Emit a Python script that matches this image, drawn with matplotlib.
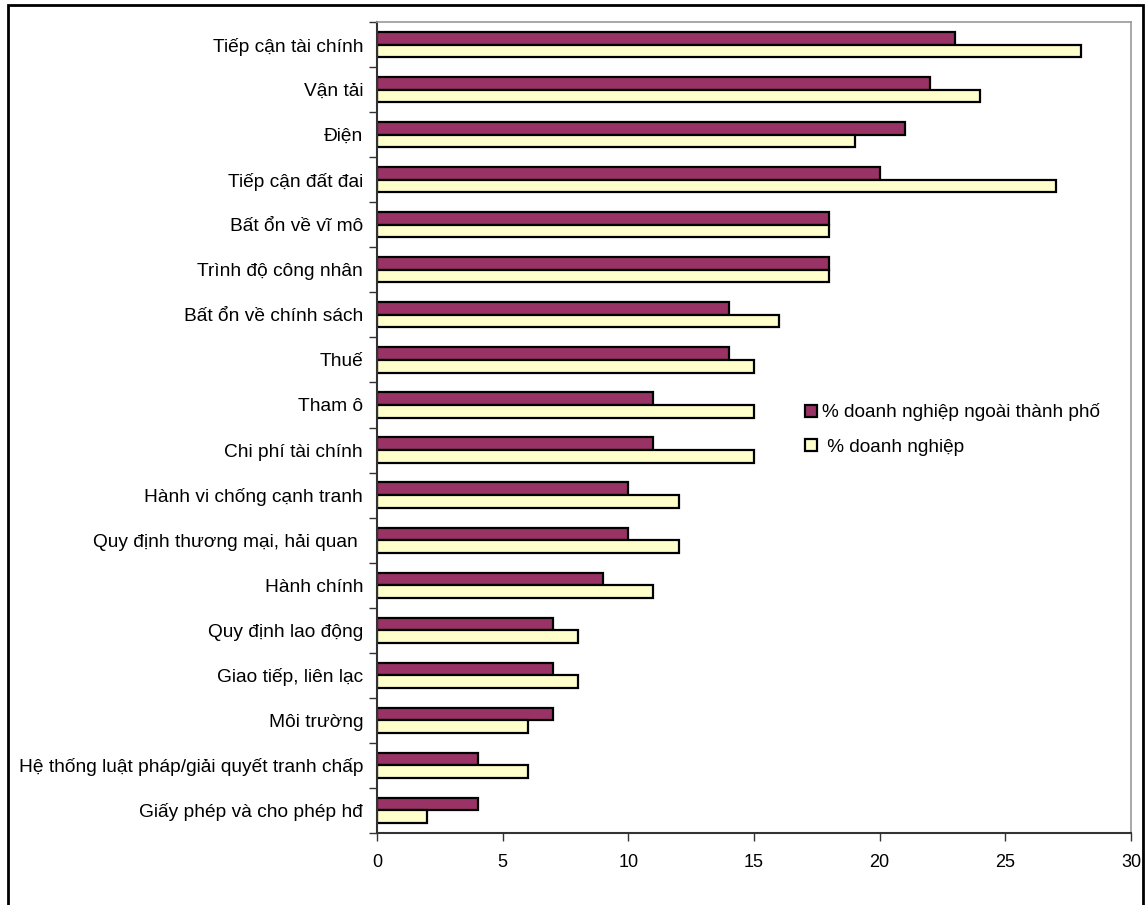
import matplotlib
matplotlib.use("Agg")
import matplotlib.pyplot as plt
import numpy as np
from matplotlib.patches import Rectangle

plt.rcParams['font.family'] = ['Liberation Sans', 'DejaVu Sans']

categories = [
    "Tiếp cận tài chính",
    "Vận tải",
    "Điện",
    "Tiếp cận đất đai",
    "Bất ổn về vĩ mô",
    "Trình độ công nhân",
    "Bất ổn về chính sách",
    "Thuế",
    "Tham ô",
    "Chi phí tài chính",
    "Hành vi chống cạnh tranh",
    "Quy định thương mại, hải quan ",
    "Hành chính",
    "Quy định lao động",
    "Giao tiếp, liên lạc",
    "Môi trường",
    "Hệ thống luật pháp/giải quyết tranh chấp",
    "Giấy phép và cho phép hđ",
]
outside_city = [23, 22, 21, 20, 18, 18, 14, 14, 11, 11, 10, 10, 9, 7, 7, 7, 4, 4]
all_firms = [28, 24, 19, 27, 18, 18, 16, 15, 15, 15, 12, 12, 11, 8, 8, 6, 6, 2]
x_ticks = [0, 5, 10, 15, 20, 25, 30]

label_outside = "% doanh nghiệp ngoài thành phố"
label_all = " % doanh nghiệp"

fig = plt.figure(figsize=(11.46, 9.05), dpi=100)
ax = fig.add_axes([377 / 1146, 1 - 833 / 905, (1131 - 377) / 1146, (833 - 22) / 905])

y = np.arange(len(categories))
h = 0.28
ax.barh(y - h / 2, outside_city, height=h, color="#993366", edgecolor="black",
        linewidth=1.6, label=label_outside)
ax.barh(y + h / 2, all_firms, height=h, color="#FFFFCC", edgecolor="black",
        linewidth=1.6, label=label_all)

ax.set_ylim(len(categories) - 0.5, -0.5)
ax.set_xlim(0, 30)
ax.set_xticks(x_ticks)
ax.set_xticklabels([str(t) for t in x_ticks], fontsize=13)
ax.set_yticks(y)
ax.set_yticklabels(categories, fontsize=13.8)
ax.set_yticks(np.arange(len(categories) + 1) - 0.5, minor=True)
ax.tick_params(axis="y", which="major", length=0, pad=10)
ax.tick_params(axis="y", which="minor", length=6, width=1, color="#333333", direction="out")
ax.tick_params(axis="x", length=6, width=1, color="#333333", direction="out", pad=9)

for side in ("top", "right"):
    ax.spines[side].set_color("#999999")
    ax.spines[side].set_linewidth(1.2)
for side in ("left", "bottom"):
    ax.spines[side].set_color("#333333")
    ax.spines[side].set_linewidth(1.5)

ax.legend(loc="upper left", bbox_to_anchor=(0.558, 0.539), frameon=False,
          fontsize=13.7, handlelength=0.6, handleheight=0.6, handletextpad=0.3,
          labelspacing=0.9, borderaxespad=0)

# outer chart frame
fig.patches.append(Rectangle((8 / 1146, -0.02), (1143 - 8) / 1146, 1 - 5 / 905 + 0.02,
                             transform=fig.transFigure, fill=False,
                             edgecolor="black", linewidth=2, zorder=0))

fig.savefig("out.png", dpi=100)
